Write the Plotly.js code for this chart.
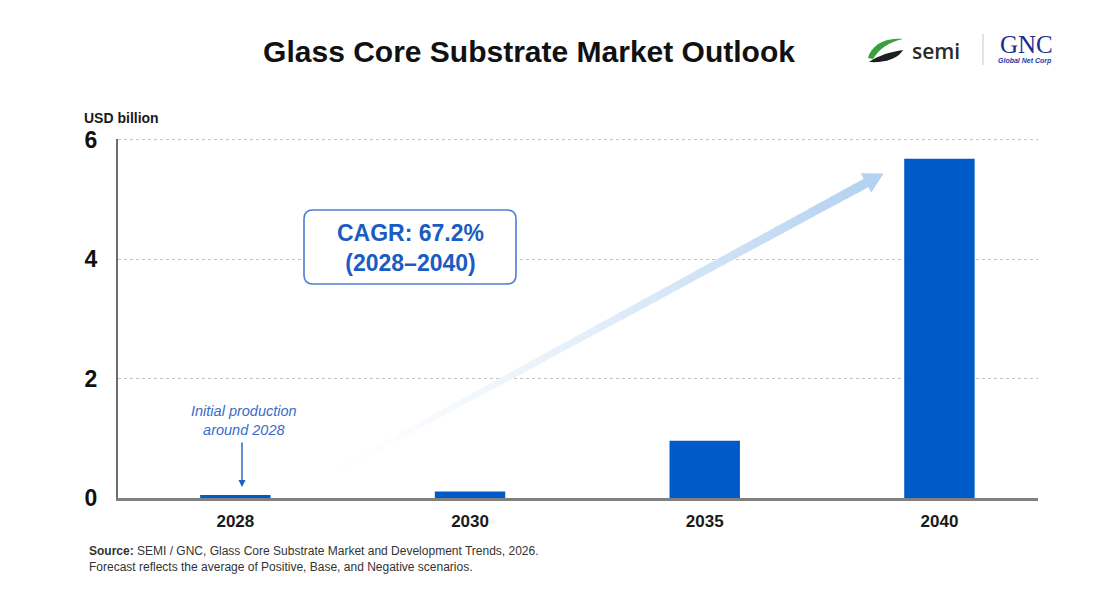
<!DOCTYPE html>
<html>
<head>
<meta charset="utf-8">
<script src="https://cdn.plot.ly/plotly-3.0.1.min.js"></script>
<style>html,body{margin:0;padding:0;background:#fff;}#chart{width:1119px;height:606px;}</style>
</head>
<body>
<div id="chart"></div>
<script>
// ---- data ----
const years = ['2028', '2030', '2035', '2040'];
const marketUSDbn = [0.05, 0.11, 0.96, 5.68];
const yTicks = [0, 2, 4, 6];
const titleText = 'Glass Core Substrate Market Outlook';
const yUnit = 'USD billion';
const cagrText = 'CAGR: 67.2%<br>(2028–2040)';
const noteText = 'Initial production<br>around 2028';
const sourceLine1 = '<b>Source:</b> SEMI / GNC, Glass Core Substrate Market and Development Trends, 2026.';
const sourceLine2 = 'Forecast reflects the average of Positive, Base, and Negative scenarios.';

// ---- layout helpers (pixel -> paper) ----
const W = 1119, H = 606, ML = 118, MR = 81, MT = 139, MB = 108;
const PW = W - ML - MR, PH = H - MT - MB;
const X = px => (px - ML) / PW;
const Y = py => (H - MB - py) / PH;
function pathPx(cmds) {
  return cmds.map(c => {
    const l = c[0]; const nums = c.slice(1); const out = [];
    for (let i = 0; i < nums.length; i += 2) out.push(X(nums[i]).toFixed(5) + ',' + Y(nums[i + 1]).toFixed(5));
    return l + (out.length ? ' ' + out.join(' ') : '');
  }).join(' ');
}

const FONT = '"Liberation Sans", Arial, Helvetica, sans-serif';
const BLUE = '#005ac8';
const TXTBLUE = '#1a5cc2';
const GRID = '#c4c4c4';

const shapes = [];
const annotations = [];

// top gridline (at the last tick, which Plotly omits at the plot edge)
shapes.push({
  type: 'line', xref: 'paper', yref: 'y', x0: 0, x1: 1,
  y0: yTicks[yTicks.length - 1], y1: yTicks[yTicks.length - 1],
  line: { color: GRID, width: 1, dash: '3px,3px' }, layer: 'below'
});

// gradient growth arrow
const T = [330, 474], Bh = [866, 183];
const N = 48;
const headRGB = [180, 210, 241];
for (let i = 0; i < N; i++) {
  const t0 = i / N, t1 = (i + 1) / N;
  const f = Math.pow(t1, 1.4);
  const col = headRGB.map(v => Math.round(255 - (255 - v) * f));
  shapes.push({
    type: 'line', xref: 'paper', yref: 'paper',
    x0: X(T[0] + (Bh[0] - T[0]) * t0), y0: Y(T[1] + (Bh[1] - T[1]) * t0),
    x1: X(T[0] + (Bh[0] - T[0]) * (t1 + 0.004)), y1: Y(T[1] + (Bh[1] - T[1]) * (t1 + 0.004)),
    line: { color: 'rgb(' + col.join(',') + ')', width: 5 + 4.5 * t1 }
  });
}
{
  const dx = Bh[0] - T[0], dy = Bh[1] - T[1], L = Math.hypot(dx, dy);
  const ux = dx / L, uy = dy / L, nx = -uy, ny = ux;
  const tip = [Bh[0] + 20 * ux, Bh[1] + 20 * uy];
  const c1 = [Bh[0] + 11 * nx, Bh[1] + 11 * ny];
  const c2 = [Bh[0] - 11 * nx, Bh[1] - 11 * ny];
  shapes.push({
    type: 'path', xref: 'paper', yref: 'paper',
    path: pathPx([['M', tip[0], tip[1]], ['L', c1[0], c1[1]], ['L', c2[0], c2[1]], ['Z']]),
    fillcolor: 'rgb(180,210,241)', line: { width: 0 }
  });
}

// CAGR rounded box
{
  const x0 = 304, y0 = 210, x1 = 516, y1 = 284, r = 9;
  shapes.push({
    type: 'path', xref: 'paper', yref: 'paper',
    path: pathPx([
      ['M', x0 + r, y0], ['L', x1 - r, y0], ['Q', x1, y0, x1, y0 + r],
      ['L', x1, y1 - r], ['Q', x1, y1, x1 - r, y1],
      ['L', x0 + r, y1], ['Q', x0, y1, x0, y1 - r],
      ['L', x0, y0 + r], ['Q', x0, y0, x0 + r, y0], ['Z']
    ]),
    fillcolor: '#ffffff', line: { color: '#4d7dd2', width: 1.6 }
  });
}

// semi logo swooshes
shapes.push({
  type: 'path', xref: 'paper', yref: 'paper',
  path: pathPx([['M', 868, 58], ['C', 871, 46, 884, 37, 903, 39], ['C', 889, 42, 879, 49, 873, 59], ['Z']]),
  fillcolor: '#3aa03c', line: { width: 0 }
});
shapes.push({
  type: 'path', xref: 'paper', yref: 'paper',
  path: pathPx([['M', 869, 62], ['C', 879, 55, 891, 52, 903, 50], ['C', 899, 58, 886, 63, 869, 62], ['Z']]),
  fillcolor: '#1e1e1e', line: { width: 0 }
});
// divider
shapes.push({
  type: 'line', xref: 'paper', yref: 'paper',
  x0: X(983), x1: X(983), y0: Y(34), y1: Y(65),
  line: { color: '#c8c8c8', width: 1 }
});

function ann(text, px, py, opts) {
  annotations.push(Object.assign({
    text: text, xref: 'paper', yref: 'paper', x: X(px), y: Y(py),
    showarrow: false, xanchor: 'center', yanchor: 'middle'
  }, opts));
}

ann(cagrText, 410, 248, { font: { family: FONT, size: 23, color: TXTBLUE, weight: 700 } });
ann(noteText, 244, 420, { font: { family: FONT, size: 14.5, color: '#3a6bcc', style: 'italic' } });
annotations.push({
  xref: 'paper', yref: 'paper', x: X(242), y: Y(487), ax: X(242), ay: Y(441),
  axref: 'paper', ayref: 'paper', text: '', showarrow: true,
  arrowhead: 2, arrowsize: 1, arrowwidth: 1.4, arrowcolor: '#1f5fc4'
});
ann(yUnit, 82, 118, { xanchor: 'left', font: { family: FONT, size: 14, color: '#1a1a1a', weight: 700 } });
ann(sourceLine1, 87, 551, { xanchor: 'left', font: { family: FONT, size: 12, color: '#333' } });
ann(sourceLine2, 87, 567, { xanchor: 'left', font: { family: FONT, size: 12, color: '#333' } });
ann('semi', 936, 51, { font: { family: '"Open Sans", "DejaVu Sans", sans-serif', size: 21, color: '#2a2a2a', weight: 600 } });
ann('GNC', 1026, 44, { font: { family: '"Liberation Serif", "DejaVu Serif", serif', size: 25, color: '#1d2b8f' } });
ann('Global Net Corp', 1025, 61, { font: { family: FONT, size: 7, color: '#2436a6', weight: 700, style: 'italic' } });

const trace = {
  type: 'bar', x: years, y: marketUSDbn,
  marker: { color: BLUE, line: { width: 0 } },
  width: 0.3, hoverinfo: 'x+y'
};

const layout = {
  width: W, height: H,
  margin: { l: ML, r: MR, t: MT, b: MB, pad: 0 },
  paper_bgcolor: '#ffffff', plot_bgcolor: '#ffffff',
  showlegend: false,
  title: {
    text: titleText, xref: 'paper', x: X(529), xanchor: 'center',
    yref: 'container', y: 1 - 51 / H, yanchor: 'middle',
    font: { family: FONT, size: 30, color: '#111', weight: 700 }
  },
  xaxis: {
    type: 'category', range: [-0.5, 3.42], categoryorder: 'array', categoryarray: years,
    showline: true, linecolor: '#808080', linewidth: 2.5,
    ticks: '', showgrid: false, zeroline: false, fixedrange: true,
    tickfont: { family: FONT, size: 17, color: '#1a1a1a', weight: 700 },
    ticklabelstandoff: 6
  },
  yaxis: {
    range: [0, 6.01], tickvals: yTicks, ticktext: yTicks.map(String),
    showline: true, linecolor: '#6e6e6e', linewidth: 2,
    showgrid: true, gridcolor: GRID, gridwidth: 1, griddash: '3px,3px',
    zeroline: false, ticks: '', fixedrange: true,
    tickfont: { family: FONT, size: 23, color: '#111', weight: 700 },
    ticklabelstandoff: 14
  },
  shapes: shapes,
  annotations: annotations,
  bargap: 0.7
};

Plotly.newPlot('chart', [trace], layout, { displayModeBar: false, staticPlot: true });
</script>
</body>
</html>
